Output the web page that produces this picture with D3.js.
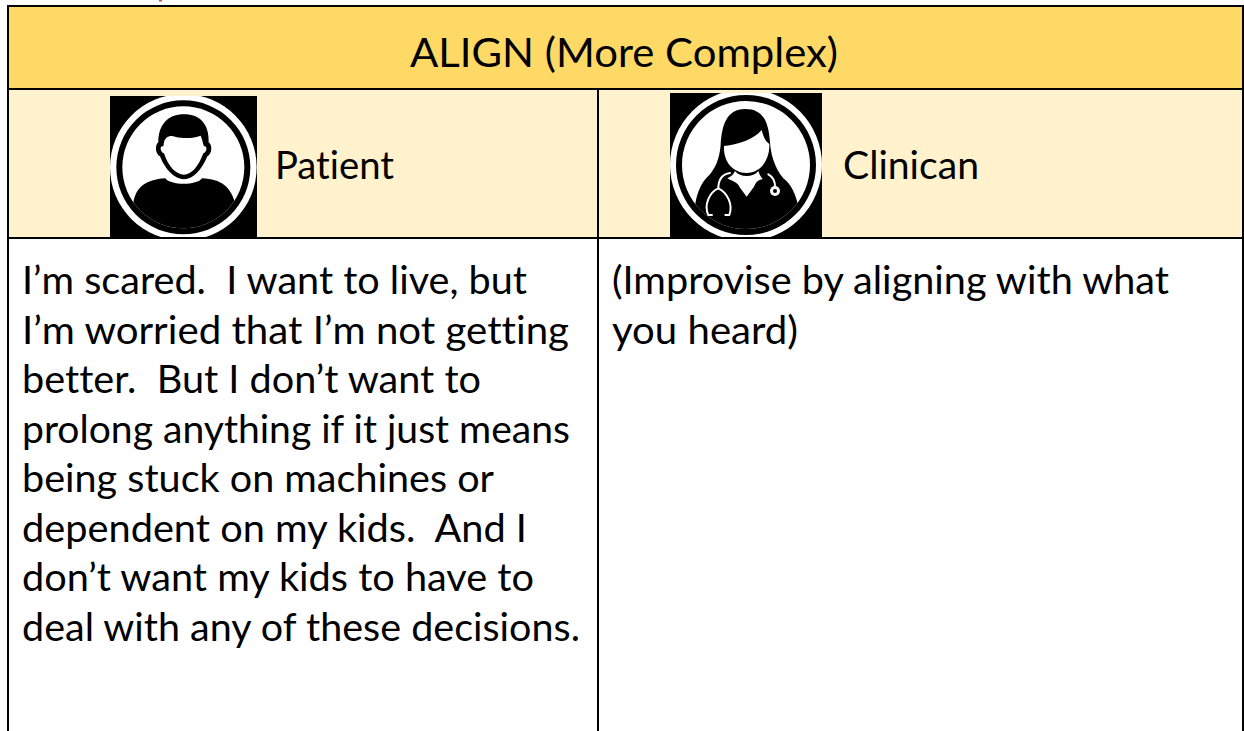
<!DOCTYPE html>
<html>
<head>
<meta charset="utf-8">
<script src="https://cdn.jsdelivr.net/npm/d3@7/dist/d3.min.js"></script>
<style>
html, body { margin: 0; padding: 0; background: #fff; overflow: hidden; }
text { font-family: Lato, "Open Sans", sans-serif; fill: #000; white-space: pre; font-variant-ligatures: none; }
</style>
</head>
<body>
<div id="chart"></div>
<script>
// data
const title = "ALIGN (More Complex)";
const roles = ["Patient", "Clinican"];
const patient_lines = [
    "I\u2019m scared.  I want to live, but",
    "I\u2019m worried that I\u2019m not getting",
    "better.  But I don\u2019t want to",
    "prolong anything if it just means",
    "being stuck on machines or",
    "dependent on my kids.  And I",
    "don\u2019t want my kids to have to",
    "deal with any of these decisions."
];
const clinician_lines = [
    "(Improvise by aligning with what",
    "you heard)"
];
// measured widths of each line in the picture, the font here is not the same
const title_width = 428;
const role_widths = [119, 136];
const patient_widths = [505, 547, 459, 548, 472, 505, 512, 558];
const clinician_widths = [557, 186];

// consts
const width = 1244;
const height = 731;
const left = 8, mid = 598, right = 1243;
const top_y = 6, head_y = 89, row_y = 238;
const header_color = "#fed966";
const row_color = "#fff2cc";

const svg = d3.select("#chart").append("svg")
    .attr("width", width)
    .attr("height", height)
    .style("display", "block");

const line_y = d3.scaleLinear().domain([0, 1]).range([294, 343.5]);

// backgrounds
svg.append("rect").attr("x", left).attr("y", top_y).attr("width", right - left).attr("height", head_y - top_y).attr("fill", header_color);
svg.append("rect").attr("x", left).attr("y", head_y).attr("width", right - left).attr("height", row_y - head_y).attr("fill", row_color);

// tiny red scrap cut off at the top edge
svg.append("rect").attr("x", 159).attr("y", 0).attr("width", 3).attr("height", 1.5).attr("fill", "#e8413c");

// avatars, drawn in the coordinates of a 3x crop
function draw_patient(){
    const g = svg.append("g").attr("transform", "translate(90,85) scale(0.33333)");
    const defs = svg.append("defs");
    defs.append("clipPath").attr("id", "pbox").append("rect").attr("x", 60).attr("y", 33).attr("width", 441).attr("height", 425);
    defs.append("clipPath").attr("id", "pin").append("circle").attr("cx", 280).attr("cy", 247).attr("r", 183);
    const c = g.append("g").attr("clip-path", "url(#pbox)");
    c.append("rect").attr("x", 60).attr("y", 33).attr("width", 441).attr("height", 425).attr("fill", "#000");
    c.append("circle").attr("cx", 280).attr("cy", 247).attr("r", 220).attr("fill", "#fff");
    c.append("circle").attr("cx", 280).attr("cy", 247).attr("r", 201).attr("fill", "#000");
    c.append("circle").attr("cx", 280).attr("cy", 247).attr("r", 183).attr("fill", "#fff");
    const p = c.append("g").attr("clip-path", "url(#pin)");
    p.append("path").attr("fill", "#000")
        .attr("d", "M130,352 C140,305 165,285 226,280 C240,302 322,302 336,280 C395,283 420,305 435,352 L435,470 L130,470 Z");
    c.append("path").attr("fill", "#000")
        .attr("d", "M205,172 C205,118 235,88 282,88 C330,88 358,118 356,172 C368,180 366,208 352,214 C335,255 310,283 282,283 C254,283 226,255 210,214 C196,208 194,180 205,172 Z");
    c.append("path").attr("fill", "#fff")
        .attr("d", "M222,172 C226,155 240,150 255,155 C285,162 310,160 332,152 C338,165 338,175 342,184 C352,180 352,200 340,205 C325,245 305,269 282,269 C258,269 235,245 222,205 C210,200 208,180 220,184 Z");
}

function draw_clinician(){
    const g = svg.append("g").attr("transform", "translate(650,85) scale(0.33333)");
    const defs = svg.append("defs");
    defs.append("clipPath").attr("id", "cbox").append("rect").attr("x", 60).attr("y", 24).attr("width", 456).attr("height", 434);
    defs.append("clipPath").attr("id", "cin").append("circle").attr("cx", 288).attr("cy", 240).attr("r", 192);
    const c = g.append("g").attr("clip-path", "url(#cbox)");
    c.append("rect").attr("x", 60).attr("y", 24).attr("width", 456).attr("height", 434).attr("fill", "#000");
    c.append("circle").attr("cx", 288).attr("cy", 240).attr("r", 228).attr("fill", "#fff");
    c.append("circle").attr("cx", 288).attr("cy", 240).attr("r", 210).attr("fill", "#000");
    c.append("circle").attr("cx", 288).attr("cy", 240).attr("r", 192).attr("fill", "#fff");
    const p = c.append("g").attr("clip-path", "url(#cin)");
    p.append("path").attr("fill", "#000")
        .attr("d", "M285,72 C228,72 215,125 212,180 C208,225 195,250 178,270 C150,295 140,330 135,362 L135,470 L445,470 L445,362 C435,325 425,300 400,280 C372,245 362,205 360,170 C355,110 340,72 285,72 Z");
    c.append("path").attr("fill", "#fff")
        .attr("d", "M222,183 C270,178 312,162 335,135 C340,158 350,172 358,176 C360,222 335,262 290,264 C245,262 220,228 222,183 Z");
    // neck and collar
    c.append("path").attr("fill", "#fff")
        .attr("d", "M232,280 C245,274 250,268 255,258 C270,278 310,278 325,258 C328,270 335,278 338,282 C325,285 318,290 312,305 L290,335 L268,305 C262,292 250,290 232,280 Z");
    // stethoscope
    const steth = c.append("g").attr("fill", "none").attr("stroke", "#fff").attr("stroke-width", 6).attr("stroke-linecap", "round");
    steth.append("path").attr("d", "M240,264 C215,268 205,285 205,310");
    steth.append("path").attr("d", "M205,310 C180,320 160,360 175,390 L186,390");
    steth.append("path").attr("d", "M205,310 C232,322 250,360 238,390 L226,390");
    steth.append("path").attr("d", "M355,268 C368,275 376,290 375,308");
    c.append("circle").attr("cx", 375).attr("cy", 318).attr("r", 15).attr("fill", "#fff");
    c.append("circle").attr("cx", 375).attr("cy", 318).attr("r", 6).attr("fill", "#000");
}

draw_patient();
draw_clinician();

// grid lines
const borders = [
    [left, top_y, left, height],
    [right, top_y, right, height],
    [mid, head_y, mid, height],
    [left - 1, top_y, right + 1, top_y],
    [left, head_y, right, head_y],
    [left, row_y, right, row_y]
];
svg.selectAll("line.border").data(borders).enter().append("line")
    .attr("class", "border")
    .attr("x1", d => d[0]).attr("y1", d => d[1])
    .attr("x2", d => d[2]).attr("y2", d => d[3])
    .attr("stroke", "#000")
    .attr("stroke-width", 2);

// text
const fit = sel => sel.attr("lengthAdjust", "spacingAndGlyphs");

svg.append("text").attr("x", 410).attr("y", 67)
    .attr("font-size", 40).attr("textLength", title_width).call(fit).text(title);

svg.selectAll("text.role").data(roles).enter().append("text")
    .attr("class", "role")
    .attr("x", (d, i) => i == 0 ? 275 : 843)
    .attr("y", 179)
    .attr("font-size", 39)
    .attr("textLength", (d, i) => role_widths[i]).call(fit)
    .text(d => d);

svg.selectAll("text.pat").data(patient_lines).enter().append("text")
    .attr("class", "pat")
    .attr("x", 22)
    .attr("y", (d, i) => line_y(i))
    .attr("font-size", 39)
    .attr("textLength", (d, i) => patient_widths[i]).call(fit)
    .text(d => d);

svg.selectAll("text.cli").data(clinician_lines).enter().append("text")
    .attr("class", "cli")
    .attr("x", 612)
    .attr("y", (d, i) => line_y(i))
    .attr("font-size", 39)
    .attr("textLength", (d, i) => clinician_widths[i]).call(fit)
    .text(d => d);
</script>
</body>
</html>
